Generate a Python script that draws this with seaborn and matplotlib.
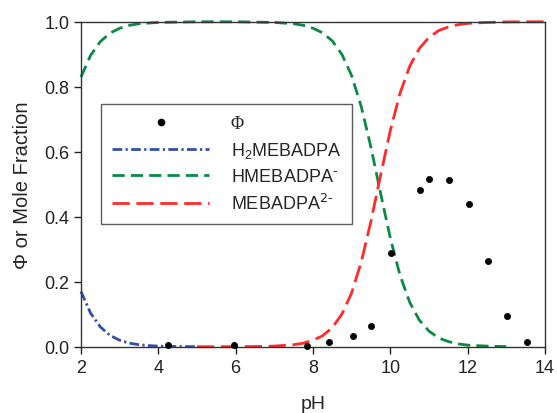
import matplotlib
matplotlib.use("Agg")
import matplotlib.pyplot as plt
import seaborn as sns
import pandas as pd
from matplotlib.lines import Line2D

# ---- data ----
ph_blue = [2.0, 2.25, 2.5, 2.75, 3.0, 3.25, 3.5, 3.75, 4.0, 4.5, 5.0]
frac_h2 = [0.170, 0.103, 0.061, 0.035, 0.020, 0.011, 0.0064, 0.0036, 0.002, 0.0006, 0.0002]

ph_green = [2.0, 2.25, 2.5, 2.75, 3.0, 3.25, 3.5, 3.75, 4.0, 4.5, 5.0, 6.0, 6.5, 7.0,
            7.5, 7.75, 8.0, 8.25, 8.5, 8.75, 9.0, 9.25, 9.5, 9.75, 10.0, 10.25, 10.5,
            10.75, 11.0, 11.25, 11.5, 11.75, 12.0, 12.5, 13.0]
frac_h = [0.830, 0.897, 0.939, 0.965, 0.980, 0.989, 0.994, 0.996, 0.998, 0.999, 1.0, 1.0,
          0.999, 0.998, 0.994, 0.989, 0.980, 0.966, 0.941, 0.899, 0.834, 0.738, 0.613,
          0.471, 0.334, 0.220, 0.137, 0.082, 0.048, 0.027, 0.016, 0.009, 0.005, 0.002, 0.0005]

ph_red = [5.0, 6.0, 6.5, 7.0, 7.5, 7.75, 8.0, 8.25, 8.5, 8.75, 9.0, 9.25, 9.5, 9.75,
          10.0, 10.25, 10.5, 10.75, 11.0, 11.25, 11.5, 11.75, 12.0, 12.5, 13.0, 13.5, 14.0]
frac_2 = [0.0, 0.0002, 0.0006, 0.002, 0.0063, 0.011, 0.020, 0.034, 0.059, 0.101, 0.166,
          0.262, 0.387, 0.529, 0.666, 0.780, 0.863, 0.918, 0.952, 0.973, 0.984, 0.991,
          0.995, 0.998, 0.9995, 1.0, 1.0]

ph_phi = [4.26, 5.96, 7.84, 8.42, 9.04, 9.50, 10.01, 10.77, 11.01, 11.52, 12.04, 12.52, 13.01, 13.54]
phi = [0.004, 0.004, 0.003, 0.015, 0.034, 0.065, 0.288, 0.483, 0.516, 0.514, 0.438, 0.263, 0.094, 0.015]

labels = ["Φ", "H$_2$MEBADPA", r"HMEBADPA$^{\text{-}}$", r"MEBADPA$^{\text{2-}}$"]
xticks = [2, 4, 6, 8, 10, 12, 14]
yticks = [0.0, 0.2, 0.4, 0.6, 0.8, 1.0]

# ---- style ----
sns.set_style("ticks")
plt.rcParams["font.family"] = ["Liberation Sans", "DejaVu Sans"]
plt.rcParams["mathtext.default"] = "regular"

blue = "#3350a8"
green = "#0a8a45"
red = "#ff2a2a"
ls_blue = (0, (3.5, 1.2, 0.8, 1.2))
ls_green = (0, (4.4, 2.2))
ls_red = (0, (6.2, 2.4))

fig = plt.figure(figsize=(5.57, 4.14), dpi=100)
ax = fig.add_axes([0.1454, 0.160, 0.9785 - 0.1454, 0.945 - 0.160])

df_b = pd.DataFrame({"pH": ph_blue, "y": frac_h2})
df_g = pd.DataFrame({"pH": ph_green, "y": frac_h})
df_r = pd.DataFrame({"pH": ph_red, "y": frac_2})
df_p = pd.DataFrame({"pH": ph_phi, "y": phi})

lw = 2.0
sns.lineplot(data=df_b, x="pH", y="y", ax=ax, color=blue, lw=lw,
             linestyle=ls_blue, clip_on=False)
sns.lineplot(data=df_g, x="pH", y="y", ax=ax, color=green, lw=lw,
             linestyle=ls_green, clip_on=False)
sns.lineplot(data=df_r, x="pH", y="y", ax=ax, color=red, lw=lw,
             linestyle=ls_red, clip_on=False)
sns.scatterplot(data=df_p, x="pH", y="y", ax=ax, color="black", s=20,
                edgecolor="black", linewidth=0.5, zorder=5, clip_on=False)

ax.set_xlim(2, 14)
ax.set_ylim(0, 1.0)
ax.set_xticks(xticks)
ax.set_xticklabels([str(t) for t in xticks])
ax.set_yticks(yticks)
ax.set_yticklabels([f"{t:.1f}" for t in yticks])
ax.tick_params(axis="both", labelsize=13, length=5, width=1, direction="out", colors="#222222")
for s in ax.spines.values():
    s.set_linewidth(1.0)
    s.set_color("#333333")
ax.set_xlabel("pH", fontsize=14, labelpad=14)
ax.set_ylabel("Φ or Mole Fraction", fontsize=14.5, labelpad=9)

handles = [
    Line2D([], [], ls="none", marker="o", color="black", markersize=4.5),
    Line2D([], [], color=blue, lw=lw, ls=ls_blue),
    Line2D([], [], color=green, lw=lw, ls=ls_green),
    Line2D([], [], color=red, lw=lw, ls=ls_red),
]
leg = ax.legend(handles, labels, loc="upper left", bbox_to_anchor=(0.043, 0.747),
                borderaxespad=0, fontsize=13, frameon=True, fancybox=False,
                handlelength=5.4, handletextpad=1.2, labelspacing=0.45,
                borderpad=0.6)
leg.get_frame().set_edgecolor("#333333")
leg.get_frame().set_linewidth(1.0)
leg.get_texts()[0].set_family(["Liberation Serif", "DejaVu Serif"])

fig.savefig("out.png", dpi=100)
